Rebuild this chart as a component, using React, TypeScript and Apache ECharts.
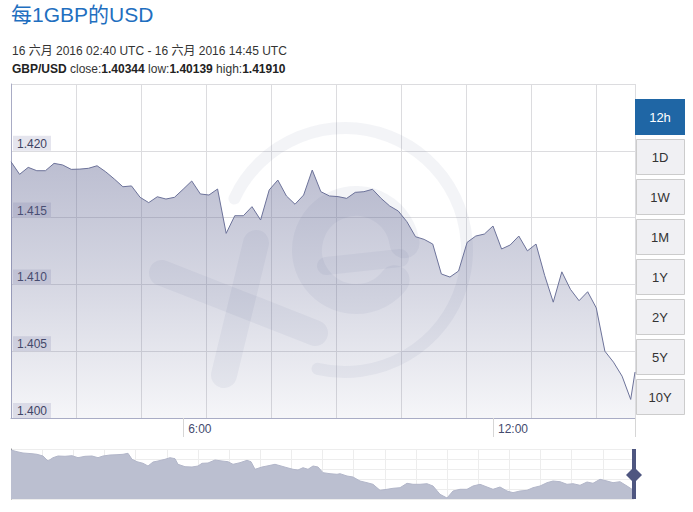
import React, { useEffect, useRef } from "react";
import * as echarts from "echarts";

// GBP/USD rate, 10-minute samples from 02:40 UTC, last sample at 14:45 UTC
const rates: number[] = [
  1.41918, 1.41824, 1.41876, 1.41851, 1.41851, 1.41906, 1.41894, 1.41861, 1.41863, 1.41869,
  1.41888, 1.41843, 1.41789, 1.41731, 1.41737, 1.41652, 1.41612, 1.41656, 1.41639, 1.41652,
  1.41712, 1.41774, 1.41677, 1.41669, 1.41714, 1.41382, 1.41514, 1.41514, 1.41582, 1.41482,
  1.41707, 1.41781, 1.41662, 1.416, 1.41669, 1.41856, 1.41694, 1.41662, 1.41657, 1.41644,
  1.41689, 1.41694, 1.41712, 1.41644, 1.41587, 1.41549, 1.41469, 1.41357, 1.41337, 1.41302,
  1.41078, 1.41055, 1.411, 1.41315, 1.41362, 1.41377, 1.41437, 1.41265, 1.41295, 1.41362,
  1.41251, 1.41302, 1.41068, 1.40867, 1.41094, 1.40963, 1.40878, 1.40945, 1.40824, 1.405,
  1.40418, 1.40313, 1.40139, 1.40344,
];
const startTime = "02:40";
const endTime = "14:45";
const stepMinutes = 10;

const yTicks = [1.4, 1.405, 1.41, 1.415, 1.42, 1.425];
const xLabelTimes = ["6:00", "12:00"];

const rangeButtons = ["12h", "1D", "1W", "1M", "1Y", "2Y", "5Y", "10Y"];
const activeButton = "12h";

// navigator (long history overview), relative position and level
const navPos: number[] = [
  0, 6, 12, 21, 26, 32, 37, 42, 47, 54, 61, 67, 74, 81, 87, 92, 99, 106, 112, 117,
  121, 126, 132, 137, 142, 147, 154, 159, 164, 167, 174, 181, 187, 191, 197, 204, 211, 217, 222, 229,
  236, 240, 244, 251, 256, 264, 269, 276, 282, 287, 292, 297, 302, 307, 312, 319, 326, 329, 336, 342,
  349, 356, 362, 369, 376, 382, 389, 396, 402, 409, 416, 422, 429, 436, 442, 449, 456, 462, 469, 476,
  482, 489, 496, 502, 509, 516, 522, 529, 536, 542, 549, 556, 562, 569, 576, 582, 589, 596, 602, 609,
  616, 621, 623,
];
const navLevel: number[] = [
  49, 47.3, 46, 45.3, 44.7, 43, 38, 41.3, 43, 42.7, 43.3, 41.3, 42.7, 43, 41.3, 43, 44, 44.3, 44.7, 45.7,
  39.7, 37.3, 35.7, 33, 37, 38, 39.7, 41.3, 40.3, 34.7, 32.3, 32, 33, 35.7, 36, 39, 38, 37.3, 34.7, 36.3,
  38.7, 37.3, 29.7, 32, 33, 34.7, 33.3, 31.3, 29.7, 29, 31.3, 29.7, 33, 32, 26.3, 25.3, 24.7, 25.3, 23, 22,
  18, 16.3, 14.7, 8.7, 9.7, 10.7, 11.3, 15.7, 14.7, 14.7, 15.3, 13, 4.7, 1, 8, 9.7, 9.7, 13, 14.7, 12,
  9.7, 12, 8, 6.3, 8, 8.7, 11.3, 13, 16.3, 18, 17.3, 14.7, 15.3, 13.7, 17, 15.7, 19.7, 18, 16.3, 17.3,
  13, 9.7, 9,
];

const FONT = "'Liberation Sans', Arial, 'Noto Sans CJK SC', sans-serif";

const toMin = (t: string) => {
  const [h, m] = t.split(":").map(Number);
  return h * 60 + m;
};
const t0 = toMin(startTime);
const tEnd = toMin(endTime) - t0;
const sampleMinutes = rates.map((_, i) => (i === rates.length - 1 ? tEnd : i * stepMinutes));
const lineData = rates.map((v, i) => [sampleMinutes[i], v]);
const navData = navLevel.map((v, i) => [navPos[i], v]);
const labelMinutes = xLabelTimes.map((t) => toMin(t) - t0);

export default function App() {
  const ref = useRef<HTMLDivElement>(null);
  useEffect(() => {
    if (!ref.current) return;
    const chart = echarts.init(ref.current, undefined, { renderer: "svg" });

    const buttonEls: any[] = [];
    rangeButtons.forEach((b, i) => {
      const active = b === activeButton;
      const y = 99 + i * 40;
      buttonEls.push({
        type: "rect",
        shape: { x: active ? 635 : 636.5, y: active ? y : y + 0.5, width: active ? 50 : 48, height: active ? 36 : 35 },
        style: active ? { fill: "#1f66a5" } : { fill: "#f0f0f3", stroke: "#cccccc", lineWidth: 1 },
        z: 5,
      });
      buttonEls.push({
        type: "text",
        x: 660,
        y: y + 18,
        style: {
          text: b,
          fill: active ? "#ffffff" : "#333333",
          font: `13px ${FONT}`,
          align: "center",
          verticalAlign: "middle",
        },
        z: 6,
      });
    });

    const wm = "rgba(100,105,150,0.075)";
    const deg = (d: number) => (d * Math.PI) / 180;

    chart.setOption({
      animation: false,
      textStyle: { fontFamily: FONT },
      grid: [
        { left: 11, top: 84, width: 624, height: 334 },
        { left: 11, top: 449, width: 623, height: 50 },
      ],
      xAxis: [
        {
          type: "value",
          gridIndex: 0,
          min: 0,
          max: tEnd,
          axisLine: { show: true, lineStyle: { color: "#a9acc5", width: 1 } },
          splitLine: { show: false },
          axisTick: {
            show: true,
            customValues: [...labelMinutes, tEnd],
            length: 19,
            lineStyle: { color: "#d6d6d6" },
          },
          axisLabel: {
            customValues: labelMinutes,
            formatter: (v: number) => {
              const m = v + t0;
              const h = Math.floor(m / 60);
              const mm = m % 60;
              return `${h}:${mm < 10 ? "0" + mm : mm}`;
            },
            align: "left",
            padding: [0, 0, 0, 5],
            margin: 5,
            color: "#434a6e",
            fontSize: 12,
            fontFamily: FONT,
          },
        },
        {
          type: "value",
          gridIndex: 0,
          position: "top",
          min: 0,
          max: 624,
          interval: 65,
          axisLine: { show: false },
          axisTick: { show: false },
          axisLabel: { show: false },
          splitLine: { show: true, lineStyle: { color: "#dcdcdf", width: 1 } },
        },
        {
          type: "value",
          gridIndex: 1,
          min: 0,
          max: 623,
          interval: 31.15,
          axisLine: { show: false },
          axisTick: { show: false },
          axisLabel: { show: false },
          splitLine: { show: true, lineStyle: { color: "#ededed" } },
        },
      ],
      yAxis: [
        {
          type: "value",
          gridIndex: 0,
          min: yTicks[0],
          max: yTicks[yTicks.length - 1],
          interval: 0.005,
          axisLine: { show: true, lineStyle: { color: "#a9acc5" } },
          axisTick: { show: false },
          splitLine: { show: true, lineStyle: { color: "#dcdcdf" } },
          axisLabel: {
            inside: true,
            showMaxLabel: false,
            formatter: (v: number) => v.toFixed(3),
            verticalAlign: "bottom",
            backgroundColor: "#e5e5ee",
            padding: [2, 4, 1, 4],
            margin: 2,
            color: "#3d4262",
            fontSize: 12,
            fontFamily: FONT,
          },
        },
        {
          type: "value",
          gridIndex: 1,
          min: 0,
          max: 50,
          interval: 10,
          axisLine: { show: true, lineStyle: { color: "#8a8a8a" } },
          axisTick: { show: false },
          axisLabel: { show: false },
          splitLine: { show: true, lineStyle: { color: "#ededed" } },
        },
      ],
      series: [
        {
          type: "line",
          xAxisIndex: 0,
          yAxisIndex: 0,
          data: lineData,
          symbol: "none",
          lineStyle: { color: "#6c7299", width: 1 },
          areaStyle: {
            origin: "start",
            opacity: 1,
            color: new echarts.graphic.LinearGradient(0, 0, 0, 1, [
              { offset: 0, color: "rgba(95,100,145,0.42)" },
              { offset: 0.5, color: "rgba(95,100,145,0.25)" },
              { offset: 1, color: "rgba(95,100,145,0.06)" },
            ]),
          },
          z: 3,
        },
        {
          type: "line",
          xAxisIndex: 2,
          yAxisIndex: 1,
          data: navData,
          symbol: "none",
          lineStyle: { color: "#b2b6c9", width: 1 },
          areaStyle: { origin: "start", color: "#bbbfd0", opacity: 1 },
        },
      ],
      graphic: [
        {
          type: "text",
          x: 11,
          y: 4,
          style: { text: "每1GBP的USD", fill: "#1f6fc0", font: `21px ${FONT}` },
        },
        {
          type: "text",
          x: 12,
          y: 45,
          style: {
            text: "16 六月 2016 02:40 UTC - 16 六月 2016 14:45 UTC",
            fill: "#333333",
            font: `12px ${FONT}`,
          },
        },
        {
          type: "text",
          x: 12,
          y: 63,
          style: {
            text: "{b|GBP/USD} close:{b|1.40344} low:{b|1.40139} high:{b|1.41910}",
            fill: "#333333",
            font: `12px ${FONT}`,
            rich: { b: { fontWeight: "bold", fontSize: 12, fontFamily: FONT, fill: "#222222" } },
          },
        },
        // watermark
        {
          type: "arc",
          shape: { cx: 345, cy: 250, r: 122, startAngle: deg(205), endAngle: deg(463), clockwise: true },
          style: { stroke: wm, lineWidth: 12, fill: null, lineCap: "round" },
          z: 1,
        },
        {
          type: "line",
          shape: { x1: 162, y1: 273, x2: 315, y2: 333 },
          style: { stroke: wm, lineWidth: 26, lineCap: "round" },
          z: 1,
        },
        {
          type: "line",
          shape: { x1: 256, y1: 243, x2: 224, y2: 375 },
          style: { stroke: wm, lineWidth: 26, lineCap: "round" },
          z: 1,
        },
        {
          type: "arc",
          shape: { cx: 356, cy: 250, r: 49, startAngle: deg(38), endAngle: deg(352), clockwise: true },
          style: { stroke: wm, lineWidth: 30, fill: null, lineCap: "round" },
          z: 1,
        },
        {
          type: "line",
          shape: { x1: 326, y1: 266, x2: 400, y2: 258 },
          style: { stroke: wm, lineWidth: 18, lineCap: "round" },
          z: 1,
        },
        // navigator handle
        { type: "rect", shape: { x: 632, y: 449, width: 4, height: 50 }, style: { fill: "#4e5680" }, z: 5 },
        {
          type: "polygon",
          shape: { points: [[626, 475], [634, 467], [642, 475], [634, 483]] },
          style: { fill: "#4e5680" },
          z: 5,
        },
        ...buttonEls,
      ],
    });
    return () => chart.dispose();
  }, []);
  return <div ref={ref} style={{ position: "absolute", left: 0, top: 0, width: 693, height: 512 }} />;
}
